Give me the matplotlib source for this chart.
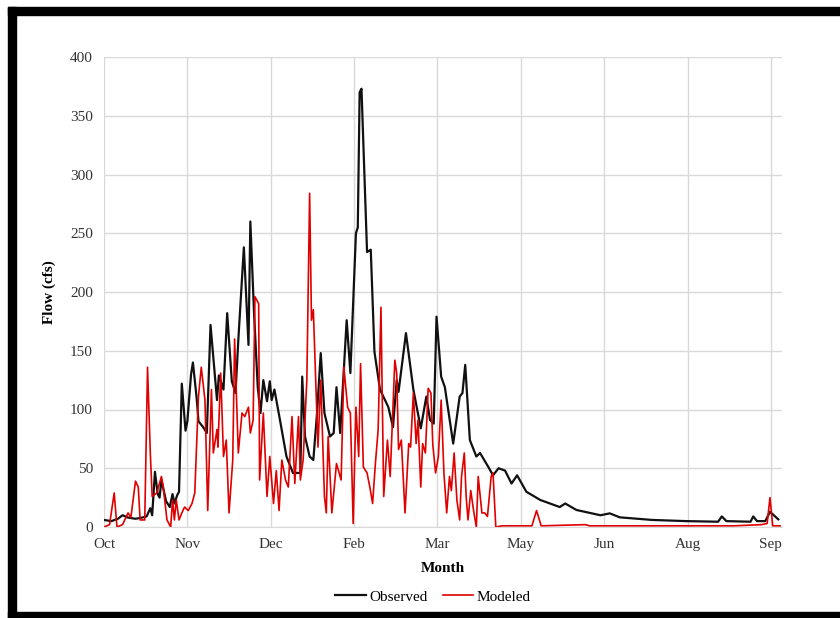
import numpy as np
import matplotlib.pyplot as plt
from matplotlib.patches import Rectangle

# daily flow, days counted from Oct 1 (water year)
obs_day = [0, 4, 7.5, 10, 13, 17, 20.5, 23, 25, 26, 27.5, 29, 30, 31, 33.5, 35.5, 37, 38,
           39.5, 40.5, 42, 44, 45, 47, 48, 50, 51, 53.5, 55.5, 57.5, 61, 62, 64.5, 66.5,
           69, 71, 72.5, 75.5, 78, 79, 81, 83, 84.5, 86, 88, 89.5, 90.5, 92, 95, 98.5,
           102, 106, 107, 108.5, 111, 113, 115, 117, 119, 122, 124, 125.5, 127.5, 131,
           133, 136, 137, 138, 139, 142, 144, 146, 149, 152, 153.5, 156, 158, 159, 163,
           167, 171, 174, 176, 178, 179.5, 182, 184, 188.5, 192, 193.5, 195, 197.5, 201,
           203, 207.5, 210, 213, 216.5, 220, 223, 228, 235.5, 246, 249, 255, 268, 273,
           278.5, 296, 314.5, 331.5, 333.5, 336, 349, 350.5, 352.5, 357, 359.5, 364]
observed = [6, 5, 7, 10, 8, 7, 8, 9, 16, 10, 47, 28, 25, 40, 22, 17, 28, 20,
            27, 30, 122, 82, 90, 130, 140, 110, 90, 85, 80, 172, 108, 129, 117, 182,
            124, 114, 159, 238, 155, 260, 182, 119, 97, 125, 107, 124, 108, 117, 91, 60,
            46, 46, 128, 77, 60, 57, 97, 148, 97, 77, 80, 119, 80, 176,
            131, 250, 255, 370, 373, 234, 236, 149, 117, 107, 102, 85, 125, 115, 165,
            117, 84, 111, 91, 88, 179, 128, 119, 71, 111, 114, 138, 74, 60,
            63, 51, 44, 50, 48, 37, 44, 30, 23, 17, 20, 14.5, 10, 11.6,
            8.2, 6, 5, 4.5, 9, 5, 4.5, 9, 5, 5, 13, 6.5]

mod_day = [0, 3, 5.5, 7, 10, 13, 14.5, 17, 18.5, 19.5, 22, 23.5, 25, 26, 28.5, 31, 32,
           34, 36, 37, 38, 39, 40.5, 42, 43.5, 45.5, 47.5, 49, 51, 52.5, 54.5, 56, 58,
           59, 61, 61.5, 63, 64.5, 66, 67.5, 69.5, 70.5, 72.5, 74.5, 76, 78, 79, 80.5,
           81.5, 83.5, 84, 86, 88, 89.5, 91.5, 93, 94.5, 96, 98, 99.5, 101.5, 103, 105,
           106, 107.5, 109.5, 111, 112, 113, 115, 115.5, 117, 119, 120, 121, 123, 125.5,
           128, 129.5, 131.5, 133, 134.5, 136, 137.5, 138.5, 140, 142, 143.5, 145, 146.5,
           148, 149.5, 151, 153, 154.5, 157, 158, 159, 160.5, 162.5, 164.5, 165.5, 167,
           168.5, 169.5, 171, 172, 173.5, 175, 176.5, 177.5, 179, 180.5, 182, 183.5, 185,
           186.5, 187.5, 189, 190.5, 192, 193, 194.5, 195.5, 196.5, 198, 199.5, 201, 202,
           204, 205.5, 207, 209, 210, 211.5, 215, 231, 233.5, 236, 260, 262, 300, 340,
           355, 358, 359.5, 361, 365]
modeled = [0, 2, 29, 0, 2, 12, 8, 39, 34, 6, 6, 136, 63, 26, 29, 43, 34,
           6, 0, 23, 6, 23, 6, 12, 17, 14, 20, 29, 111, 136, 108, 14, 117,
           63, 83, 68, 131, 60, 74, 12, 57, 160, 63, 97, 94, 102, 80, 91,
           196, 190, 40, 97, 26, 60, 20, 48, 14, 57, 40, 34, 94, 37, 94,
           40, 57, 125, 284, 176, 185, 91, 68, 125, 26, 12, 77, 12, 54,
           40, 136, 102, 97, 3, 102, 60, 139, 51, 46, 34, 20, 54,
           83, 187, 26, 74, 43, 142, 131, 66, 74, 12, 71, 68, 114,
           71, 91, 34, 71, 63, 118, 114, 70, 46, 60, 108, 46, 12,
           43, 31, 63, 23, 6, 43, 63, 26, 6, 31, 14, 0, 43,
           12, 12, 9, 43, 46, 0, 1, 1, 14, 1, 2, 1, 1, 1,
           2, 3, 25, 1, 1]

tick_days = np.arange(0, 361, 45)
tick_labels = ['Oct', 'Nov', 'Dec', 'Feb', 'Mar', 'May', 'Jun', 'Aug', 'Sep']

plt.rcParams['font.family'] = ['Liberation Serif', 'DejaVu Serif']

fig = plt.figure(figsize=(8.4, 6.18), dpi=100)
ax = fig.add_axes([104/840, 91/618, 678/840, 470/618])

ax.plot(obs_day, observed, color='#111111', lw=1.6, label='Observed')
ax.plot(mod_day, modeled, color='#e00000', lw=1.2, label='Modeled')

ax.set_xlim(0, 366)
ax.set_ylim(0, 400)
ax.set_yticks(np.arange(0, 401, 50))
ax.set_xticks(tick_days)
ax.set_xticklabels(tick_labels)
ax.tick_params(length=0, labelsize=11, colors='#333333', pad=8)
ax.grid(True, color='#d9d9d9', lw=1)
ax.set_axisbelow(True)
for s in ['top', 'right', 'left']:
    ax.spines[s].set_visible(False)
ax.spines['bottom'].set_color('#d9d9d9')

ax.set_xlabel('Month', fontsize=11, fontweight='bold', labelpad=8)
ax.set_ylabel('Flow (cfs)', fontsize=11, fontweight='bold', labelpad=10)

ax.legend(loc='upper center', bbox_to_anchor=(0.485, -0.105), ncol=2, frameon=False,
          fontsize=11, handlelength=2.0, handletextpad=0.2, columnspacing=1.0)

# black picture frame (no right side)
fig.patches.append(Rectangle((8/840, (618-15)/618), 1, 8/618, transform=fig.transFigure,
                             color='black', zorder=10))
fig.patches.append(Rectangle((8/840, 0), 8/840, 1 - 7/618, transform=fig.transFigure,
                             color='black', zorder=10))
fig.patches.append(Rectangle((8/840, 0), 1, 6/618, transform=fig.transFigure,
                             color='black', zorder=10))

fig.savefig('out.png', dpi=100)
